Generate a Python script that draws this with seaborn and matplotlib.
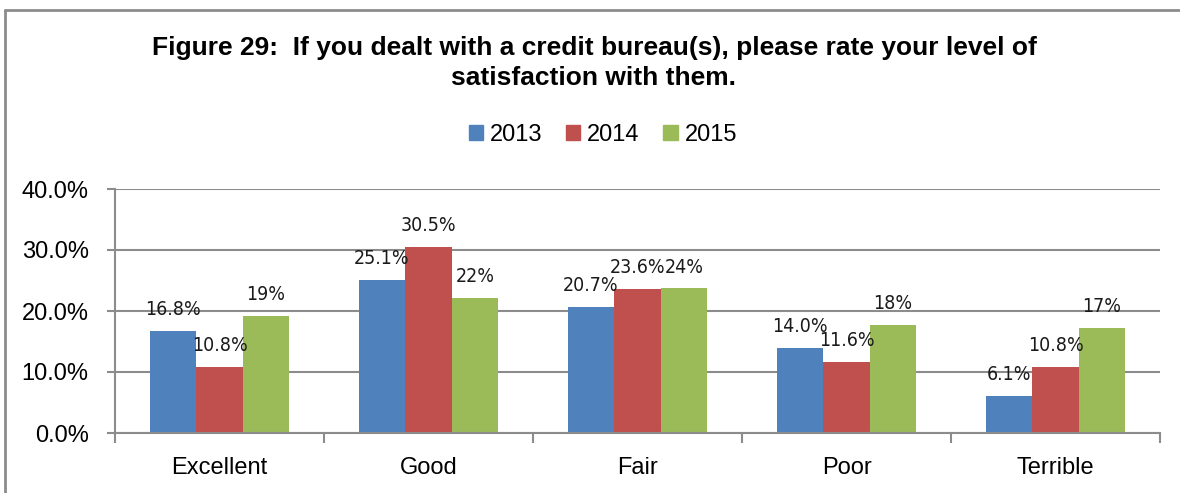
import matplotlib
matplotlib.use("Agg")
import matplotlib.pyplot as plt
import seaborn as sns
import pandas as pd
from matplotlib.lines import Line2D

categories = ["Excellent", "Good", "Fair", "Poor", "Terrible"]
years = ["2013", "2014", "2015"]
v2013 = [16.8, 25.1, 20.7, 14.0, 6.1]
v2014 = [10.8, 30.5, 23.6, 11.6, 10.8]
v2015 = [19.2, 22.2, 23.7, 17.7, 17.2]
labels2013 = ["16.8%", "25.1%", "20.7%", "14.0%", "6.1%"]
labels2014 = ["10.8%", "30.5%", "23.6%", "11.6%", "10.8%"]
labels2015 = ["19%", "22%", "24%", "18%", "17%"]
yticks = [0, 10, 20, 30, 40]
ytick_labels = ["0.0%", "10.0%", "20.0%", "30.0%", "40.0%"]
title = "Figure 29:  If you dealt with a credit bureau(s), please rate your level of\nsatisfaction with them."

colors = ["#4F81BD", "#C0504D", "#9BBB59"]

df = pd.DataFrame({
    "category": categories * 3,
    "year": [years[0]] * 5 + [years[1]] * 5 + [years[2]] * 5,
    "value": v2013 + v2014 + v2015,
})

sns.set_theme(style="white")
plt.rcParams["font.family"] = ["Liberation Sans", "DejaVu Sans"]
plt.rcParams["text.color"] = "black"
plt.rcParams["xtick.color"] = "black"
plt.rcParams["ytick.color"] = "black"

fig = plt.figure(figsize=(11.8, 4.93), dpi=100)
ax = fig.add_axes([115 / 1180, 1 - 433 / 493, (1160 - 115) / 1180, (433 - 189) / 493])

sns.barplot(data=df, x="category", y="value", hue="year", order=categories,
            hue_order=years, palette=colors, width=0.667, saturation=1,
            ax=ax, legend=False, linewidth=0)

ax.set_ylim(0, 40)
ax.set_xlim(-0.5, 4.5)
ax.set_yticks(yticks)
ax.set_yticklabels(ytick_labels, fontsize=17)
ax.set_xlabel("")
ax.set_ylabel("")
ax.set_xticks([])
ax.set_axisbelow(True)
ax.yaxis.grid(True, color="#8c8c8c", linewidth=1.5)
for s in ["top", "right"]:
    ax.spines[s].set_visible(False)
for s in ["left", "bottom"]:
    ax.spines[s].set_color("#8c8c8c")
    ax.spines[s].set_linewidth(1.5)
ax.tick_params(axis="y", which="both", left=True, length=6, width=1.5, color="#8c8c8c",
               labelcolor="black", pad=13)

# category boundary tick marks and labels
ax.set_xticks([-0.5, 0.5, 1.5, 2.5, 3.5, 4.5], minor=True)
ax.tick_params(axis="x", which="minor", bottom=True, length=7, width=1.5, color="#8c8c8c")
for i, c in enumerate(categories):
    ax.text(i, -0.145, c, transform=ax.get_xaxis_transform(), ha="center", va="center",
            fontsize=17, color="black")

all_labels = [labels2013, labels2014, labels2015]
for cont, labs in zip(ax.containers, all_labels):
    for bar, lab in zip(cont, labs):
        ax.annotate(lab, (bar.get_x() + bar.get_width() / 2, bar.get_height()),
                    xytext=(0, 8.5), textcoords="offset points", ha="center", va="bottom",
                    fontsize=14, family="DejaVu Sans", fontstretch="condensed",
                    color="#1a1a1a")

fig.text(594 / 1180, 1 - 63 / 493, title, ha="center", va="center", fontsize=19,
         fontweight="bold", linespacing=1.35, color="black")

handles = [plt.Rectangle((0, 0), 1, 1, color=c) for c in colors]
fig.legend(handles, years, loc="center", bbox_to_anchor=(603 / 1180, 1 - 135 / 493),
           ncol=3, frameon=False, fontsize=17, handlelength=0.6, handleheight=0.6,
           handletextpad=0.3, columnspacing=1.0)

# outer chart frame
fig.add_artist(Line2D([5 / 1180, 1], [1 - 10 / 493, 1 - 10 / 493], transform=fig.transFigure,
                      color="#8c8c8c", linewidth=2))
fig.add_artist(Line2D([5 / 1180, 5 / 1180], [0, 1 - 10 / 493], transform=fig.transFigure,
                      color="#8c8c8c", linewidth=2))

fig.savefig("out.png", dpi=100)
